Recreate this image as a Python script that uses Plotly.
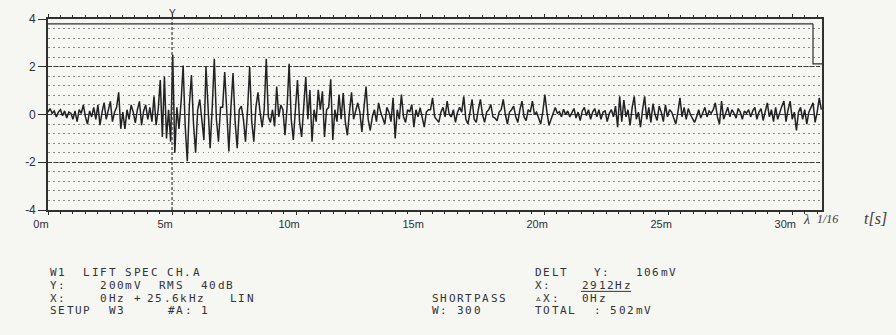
import plotly.graph_objects as go

# ---------------- data ----------------
# sample interval of the trace in ms (12 samples per printed millisecond)
dt_ms = 0.0838

# one row per millisecond, 12 samples each (values in the printed Y units)
row_00 = [0.1, 0.25, 0.05, 0.15, -0.1, 0.1, 0.2, -0.05, 0.15, -0.15, 0.1, 0.05]
row_01 = [-0.2, 0.15, -0.3, 0.2, 0.05, 0.4, -0.1, -0.4, 0.15, -0.1, 0.3, -0.2]
row_02 = [0.4, -0.45, 0.1, 0.5, -0.2, 0.2, 0.55, -0.3, 0.1, 0.3, 0.93, -0.6]
row_03 = [0.1, -0.6, 0.2, -0.2, 0.4, 0.1, -0.35, 0.2, 0.55, -0.45, 0.15, 0.4]
row_04 = [-0.2, 0.3, -0.3, 0.76, -0.45, 0.2, 1.44, -0.94, 1.58, -1.0, 0.2, -1.14]
row_05 = [2.5, -1.6, 0.3, -0.6, 0.5, 2.05, -0.5, -1.96, 0.4, 1.65, -0.4, -1.6]
row_06 = [0.2, 0.63, -0.3, -1.07, 2.0, 0.2, -1.41, 0.3, 2.33, -0.2, -1.14, 0.3]
row_07 = [0.3, 1.78, -0.2, -1.55, 0.3, 1.74, -0.3, -1.41, 0.2, 0.35, -0.2, -1.14]
row_08 = [0.2, 1.99, -0.3, -1.14, 0.3, 0.93, 0.1, -0.53, 0.2, 2.33, -0.1, -0.33]
row_09 = [0.2, -0.5, 1.17, -0.1, 0.4, 0.2, -0.87, 0.3, 2.12, -0.2, -1.07, 0.3]
row_10 = [1.44, -0.3, -0.94, 0.3, 1.58, -0.2, 1.03, -1.14, 0.2, -0.3, 1.03, 0.2]
row_11 = [0.97, -0.94, 0.2, 0.3, 1.47, -1.07, 0.2, -0.3, 0.83, -0.2, 0.9, -0.3]
row_12 = [-0.87, 0.1, 0.93, -0.2, 0.2, 0.49, 0.1, -0.73, 0.3, 1.17, -0.2, -0.67]
row_13 = [-0.1, 0.2, -0.3, 0.49, 0.1, -0.2, -0.4, 0.3, 0.1, -0.3, 0.7, -1.0]
row_14 = [0.2, -0.2, 0.83, -0.1, -0.33, 0.2, 0.1, 0.42, -0.53, 0.2, -0.1, 0.29]
row_15 = [-0.1, -0.53, 0.1, 0.2, 0.2, 0.7, -0.1, -0.2, -0.33, 0.1, 0.3, -0.1]
row_16 = [0.56, 0.0, -0.1, 0.2, -0.33, 0.1, 0.3, 0.1, 0.76, -0.2, -0.4, 0.1]
row_17 = [0.63, -0.2, -0.33, 0.2, 0.63, 0.0, -0.33, 0.1, 0.2, 0.42, -0.1, -0.15]
row_18 = [-0.26, 0.1, 0.2, 0.63, 0.0, -0.4, 0.1, 0.2, 0.35, -0.1, -0.33, 0.2]
row_19 = [0.56, -0.1, -0.26, 0.2, 0.1, 0.56, 0.0, 0.1, -0.2, -0.4, 0.1, 0.83]
row_20 = [0.1, -0.46, -0.2, 0.1, 0.29, 0.05, 0.12, -0.1, 0.22, 0.0, 0.15, -0.1]
row_21 = [0.05, 0.25, -0.15, 0.1, -0.25, 0.15, 0.3, -0.05, 0.2, -0.2, 0.1, 0.25]
row_22 = [-0.1, 0.2, -0.2, 0.1, 0.15, -0.3, 0.05, 0.2, -0.1, 0.35, -0.53, 0.76]
row_23 = [-0.3, 0.6, -0.1, 0.2, -0.46, 0.3, 0.76, -0.2, 0.1, -0.53, 0.2, 0.76]
row_24 = [-0.2, 0.3, -0.33, 0.45, 0.0, -0.25, 0.35, 0.1, -0.3, 0.4, -0.1, 0.2]
row_25 = [0.1, -0.2, -0.4, 0.1, 0.7, -0.1, 0.3, -0.2, 0.25, 0.0, -0.15, -0.33]
row_26 = [-0.1, 0.2, -0.15, 0.1, 0.3, -0.1, 0.15, 0.05, 0.2, 0.49, -0.1, -0.4]
row_27 = [0.56, -0.2, 0.1, 0.3, -0.1, 0.2, 0.05, -0.15, 0.25, 0.1, -0.2, 0.15]
row_28 = [0.05, 0.2, -0.1, 0.15, 0.3, -0.2, 0.1, 0.25, -0.25, 0.2, 0.49, -0.1]
row_29 = [0.2, -0.3, 0.3, -0.2, 0.1, 0.35, 0.56, -0.3, 0.2, 0.56, -0.2, 0.1]
row_30 = [-0.67, 0.1, 0.3, -0.2, 0.2, -0.4, 0.1, 0.3, 0.49, -0.33, 0.1, 0.7, 0.2]

x_tick_vals = [0, 5, 10, 15, 20, 25, 30]
x_tick_text = ["0m", "5m", "10m", "15m", "20m", "25m", "30m"]
y_tick_vals = [-4, -2, 0, 2, 4]
y_tick_text = ["-4", "-2", "0", "2", "4"]
cursor_ms = 5

rows = [row_00, row_01, row_02, row_03, row_04, row_05, row_06, row_07, row_08,
        row_09, row_10, row_11, row_12, row_13, row_14, row_15, row_16, row_17,
        row_18, row_19, row_20, row_21, row_22, row_23, row_24, row_25, row_26,
        row_27, row_28, row_29, row_30]
values = [v for r in rows for v in r]
time_ms = [i * dt_ms for i in range(len(values))]

# ---------------- figure ----------------
W, H = 896, 335
ML, MR, MT, MB = 48, 74, 14, 125
PW, PH = W - ML - MR, H - MT - MB
BG = "#f6f6f3"
INK = "#303030"


def px_x(px):
    return (px - ML) / PW


def px_y(py):
    return (MT + PH - py) / PH


fig = go.Figure()
fig.add_trace(go.Scatter(x=time_ms, y=values, mode="lines",
                         line=dict(color="#222222", width=1.5),
                         hoverinfo="skip"))

fig.update_layout(
    width=W, height=H, margin=dict(l=ML, r=MR, t=MT, b=MB),
    paper_bgcolor=BG, plot_bgcolor=BG, showlegend=False,
    font=dict(family="Liberation Sans, Arial, sans-serif", color=INK),
)

fig.update_xaxes(
    range=[0, 31.2], tickvals=x_tick_vals, ticktext=x_tick_text,
    ticks="outside", ticklen=3, tickwidth=1.2, tickcolor=INK,
    showline=True, linecolor=INK, linewidth=1.6, mirror="allticks",
    showgrid=False, zeroline=False,
    minor=dict(dtick=0.5, ticks="outside", ticklen=2, tickcolor=INK, showgrid=False),
    tickfont=dict(size=11, color=INK), ticklabelshift=-7, ticklabelstandoff=0,
)
fig.update_yaxes(
    range=[-4, 4], tickvals=y_tick_vals, ticktext=y_tick_text,
    ticks="outside", ticklen=8, tickwidth=1.4, tickcolor=INK,
    showline=True, linecolor=INK, linewidth=1.6, mirror=True,
    showgrid=True, gridcolor="#3c3c3c", gridwidth=1.3, griddash="4px,2px",
    zeroline=False,
    minor=dict(dtick=0.4, showgrid=True, gridcolor="#8a8a8a", gridwidth=1,
               griddash="1.5px,3.5px", ticks=""),
    tickfont=dict(size=12, color=INK),
)

# cursor line at 5 ms
fig.add_shape(type="line", xref="x", yref="paper", x0=cursor_ms, x1=cursor_ms,
              y0=0, y1=1, line=dict(color="#3a3a3a", width=1.2, dash="3px,2px"))
fig.add_annotation(x=cursor_ms, xref="x", y=1, yref="paper", yanchor="bottom",
                   text="Y", showarrow=False, font=dict(size=10, color=INK),
                   yshift=-1, borderpad=0)

# inner frame line near top and right-hand marker box
fig.add_shape(type="line", xref="paper", yref="paper", x0=0, x1=px_x(813),
              y0=px_y(19), y1=px_y(19), line=dict(color=INK, width=1.2))
fig.add_shape(type="path", xref="paper", yref="paper",
              path=f"M {px_x(813)},{px_y(19)} L {px_x(813)},{px_y(60)} L 1,{px_y(60)}",
              line=dict(color=INK, width=1.2))

# handwritten notes at the axis end
hand = dict(family="Liberation Serif, serif", color="#3a3a3a")
for hx, hy, htxt, hsize in [(806, 220, "<i>λ</i>", 14),
                            (827, 219, "<i>1/16</i>", 12),
                            (876, 219, "<i>t[s]</i>", 16)]:
    fig.add_annotation(x=px_x(hx), y=px_y(hy), xref="paper", yref="paper",
                       xanchor="center", yanchor="middle", text=htxt,
                       showarrow=False, font=dict(size=hsize, **hand), borderpad=0)

# status text block under the chart (plotter font: fixed 8.4 px character pitch)
PITCH = 8.4
mono = dict(family="DejaVu Sans Mono, monospace", size=11, color="#333333")
tokens = [
    (50, 274.5, "W1  LIFT SPEC CH.A"),
    (535, 274.5, "DELT   Y:   106mV"),
    (50, 287.5, "Y:    200mV  RMS  40dB"),
    (535, 287.5, "X:"), (582, 287.5, "2912Hz"),
    (50, 300.5, "X:    0Hz +"), (147, 300.5, "25.6kHz"), (230, 300.5, "LIN"),
    (432, 300.5, "SHORTPASS"), (535, 300.5, "▵X:"), (582, 300.5, "0Hz"),
    (50, 313.5, "SETUP  W3"), (168, 313.5, "#A: 1"),
    (432, 313.5, "W: 300"), (535, 313.5, "TOTAL  : 502mV"),
]
for tx, ty, tt in tokens:
    for i, ch in enumerate(tt):
        if ch == " ":
            continue
        fig.add_annotation(x=px_x(tx + i * PITCH + 3.3), y=px_y(ty),
                           xref="paper", yref="paper",
                           xanchor="center", yanchor="middle", text=ch,
                           showarrow=False, font=mono, borderpad=0)

# underline under the marker frequency
fig.add_shape(type="line", xref="paper", yref="paper",
              x0=px_x(581), x1=px_x(582 + 5 * PITCH + 7), y0=px_y(293.5), y1=px_y(293.5),
              line=dict(color="#333333", width=1))

fig.write_html("out.html")
